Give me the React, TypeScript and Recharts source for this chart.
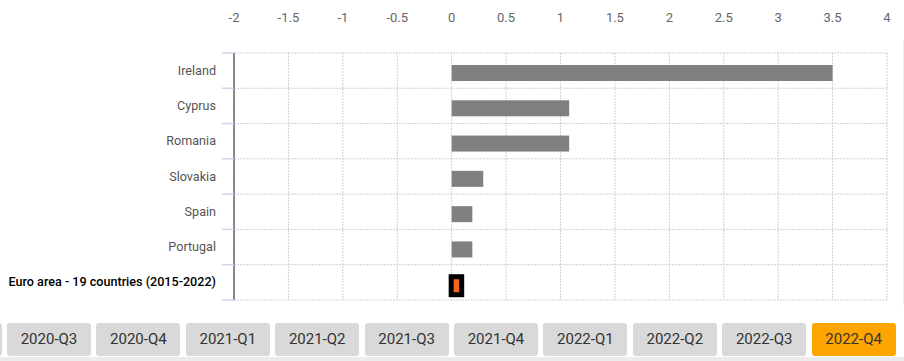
import { BarChart, Bar, XAxis, YAxis, CartesianGrid } from 'recharts';

const countries = ['Ireland', 'Cyprus', 'Romania', 'Slovakia', 'Spain', 'Portugal', 'Euro area - 19 countries (2015-2022)'];
const growth = [3.5, 1.08, 1.08, 0.29, 0.19, 0.19, 0.06];
const xTicks = [-2, -1.5, -1, -0.5, 0, 0.5, 1, 1.5, 2, 2.5, 3, 3.5, 4];
const quarters = ['2020-Q3', '2020-Q4', '2021-Q1', '2021-Q2', '2021-Q3', '2021-Q4', '2022-Q1', '2022-Q2', '2022-Q3', '2022-Q4'];
const activeQuarter = '2022-Q4';
const highlight = 'Euro area - 19 countries (2015-2022)';

const data = countries.map((name, i) => ({ name, value: growth[i] }));

const FONT = 'Roboto, "Open Sans", sans-serif';
const CHART_H = 310;
const MARGIN = { top: 23, right: 17, left: 0, bottom: 10 };
const X_AXIS_H = 30;
// half a category band, for the boundary tick marks on the category axis
const HALF_BAND = (CHART_H - MARGIN.top - MARGIN.bottom - X_AXIS_H) / countries.length / 2;

function TopTick({ x, y, payload }: any) {
  return (
    <text x={x} y={y} dy={-23} textAnchor="middle" fill="#666" fontSize={13} fontFamily={FONT}>
      {payload.value}
    </text>
  );
}

function CategoryTick({ x, y, payload, index }: any) {
  const axisX = x + 8;
  const isEuro = payload.value === highlight;
  const last = index === countries.length - 1;
  return (
    <g>
      <line x1={axisX - 12} x2={axisX} y1={y - HALF_BAND} y2={y - HALF_BAND} stroke="#ccd6eb" strokeWidth={1.5} />
      {last && <line x1={axisX - 12} x2={axisX} y1={y + HALF_BAND} y2={y + HALF_BAND} stroke="#ccd6eb" strokeWidth={1.5} />}
      <text
        x={x - 10}
        y={y}
        dy={4}
        textAnchor="end"
        fontSize={12.6}
        fontFamily={FONT}
        fill={isEuro ? '#000' : '#555'}
        fontWeight={isEuro ? 500 : 400}
      >
        {payload.value}
      </text>
    </g>
  );
}

function BarShape(props: any) {
  const { x, y, width, payload } = props;
  if (payload.name === highlight) {
    const w = Math.max(width - 1, 5);
    return (
      <g>
        <rect x={x - 3} y={y - 0.5} width={w + 10} height={23} fill="#000" />
        <rect x={x + 2} y={y + 4.5} width={w} height={13} fill="#f26522" />
      </g>
    );
  }
  return <rect x={x} y={y + 2} width={width} height={16} fill="#808080" />;
}

const buttonStyle = (left: number, active: boolean) => ({
  position: 'absolute' as const,
  left,
  top: 323,
  width: 84,
  height: 33,
  borderRadius: 3,
  background: active ? '#ffa500' : '#d9d9d9',
  color: '#333',
  fontSize: 15,
  lineHeight: '33px',
  textAlign: 'center' as const,
});

export default function App() {
  return (
    <div style={{ position: 'absolute', left: 0, top: 0, width: 904, height: 361, background: '#fff', overflow: 'hidden', fontFamily: FONT }}>
      <BarChart width={904} height={CHART_H} data={data} layout="vertical" margin={MARGIN}>
        <CartesianGrid
          stroke="#d0d0d0"
          strokeDasharray="2 1"
          horizontalCoordinatesGenerator={({ offset }: any) =>
            countries.map((_, i) => offset.top + (i * offset.height) / countries.length).concat(offset.top + offset.height)
          }
        />
        <XAxis
          type="number"
          orientation="top"
          domain={[-2, 4]}
          ticks={xTicks}
          axisLine={false}
          tickLine={false}
          height={X_AXIS_H}
          tick={<TopTick />}
          interval={0}
        />
        <YAxis
          type="category"
          dataKey="name"
          width={234}
          axisLine={{ stroke: '#222' }}
          tickLine={false}
          tick={<CategoryTick />}
          interval={0}
        />
        <Bar dataKey="value" barSize={16} shape={<BarShape />} isAnimationActive={false} />
      </BarChart>
      <div style={{ position: 'absolute', left: 903, top: 40, width: 1, height: 265, background: '#eeeeee' }} />
      {/* partly scrolled-out button on the left edge */}
      <div style={buttonStyle(-82.4, false)} />
      {quarters.map((q, i) => (
        <div key={q} style={buttonStyle(7 + i * 89.4, q === activeQuarter)}>
          {q}
        </div>
      ))}
      <div style={{ position: 'absolute', left: 0, top: 357, width: 904, height: 4, background: '#ebebeb' }} />
    </div>
  );
}
